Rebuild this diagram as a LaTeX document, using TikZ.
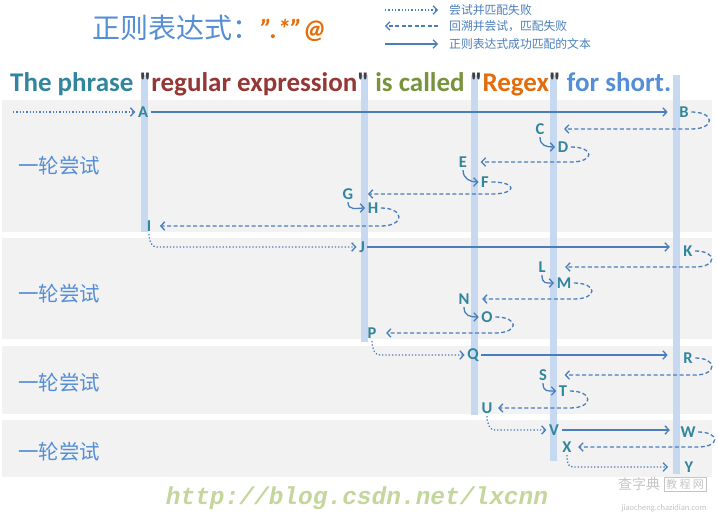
\documentclass[tikz,border=0pt]{standalone}
\usepackage{fontspec}
\setmainfont{Carlito}
\newfontfamily\phrasefont{Carlito}[Ligatures=TeXOff]
\newfontfamily\cjk{Noto Sans CJK SC}
\newfontfamily\wmfont{Liberation Mono}
\usepackage{tikz}
\usetikzlibrary{arrows.meta}
\usepackage{color}
\definecolor{fond}{HTML}{F2F2F2}
\definecolor{barrec}{HTML}{C6D9F1}
\definecolor{trait}{HTML}{4A7EBB}
\definecolor{lettrec}{HTML}{31859C}
\definecolor{titrebleu}{HTML}{558ED5}
\definecolor{orangec}{HTML}{E46C0A}
\definecolor{rougefonce}{HTML}{953735}
\definecolor{vertolive}{HTML}{77933C}
\definecolor{guillemet}{HTML}{404040}
\definecolor{vertpale}{HTML}{C3D69B}
\definecolor{grisfil}{HTML}{C4C4C4}

\begin{document}
\begin{tikzpicture}[x=1pt,y=-1pt,
	lettre/.style={text=lettrec,font=\bfseries\fontsize{16.5}{16.5}\selectfont,inner sep=2.5pt},
	essai/.style={trait,line width=1.3pt,dotted,-{Straight Barb[length=4pt,width=8.5pt]}},
	retour/.style={trait,line width=1.3pt,dash pattern=on 4pt off 2.5pt,-{Straight Barb[length=4pt,width=8.5pt]}},
	succes/.style={trait,line width=1.3pt,-{Straight Barb[length=4pt,width=8.5pt]}},
	crochet/.style={succes},
	bande/.style={fill=fond},
	colonne/.style={fill=barrec},
	cote/.style={text=titrebleu,font=\cjk\fontsize{20.5}{20.5}\selectfont},
	legende/.style={anchor=west,inner sep=0pt,text=trait,font=\cjk\fontsize{11.8}{11.8}\selectfont}]
\useasboundingbox (0,0) rectangle (718,519);
%					Tracé des bandes :
					\fill[bande] (2,100) rectangle (712,232);
					\fill[bande] (2,238) rectangle (712,339);
					\fill[bande] (2,346) rectangle (712,414);
					\fill[bande] (2,420) rectangle (712,477);
%					Tracé des colonnes :
					\fill[colonne] (140.5,75) rectangle (147.5,232);
					\fill[colonne] (360.5,75) rectangle (367.5,342);
					\fill[colonne] (470.5,75) rectangle (477.5,415);
					\fill[colonne] (549.5,75) rectangle (556.5,461);
					\fill[colonne] (672.5,75) rectangle (679.5,474);
%					Titre et légende :
					\node[anchor=west,inner sep=0pt,text=titrebleu,font=\cjk\fontsize{28}{28}\selectfont] (titre) at (92,28) {正则表达式：};
					\node[anchor=base west,inner sep=0pt,text=orangec,font=\bfseries\itshape\fontsize{27}{27}\selectfont] (motif) at (titre.base east) {”.*”@};
					\node[legende] (leg1) at (449,10) {尝试并匹配失败};
					\node[legende] (leg2) at (449,26) {回溯并尝试，匹配失败};
					\node[legende] (leg3) at (449,44) {正则表达式成功匹配的文本};
					\coordinate (l1) at (385,10);
					\coordinate (l2) at (385,26);
					\coordinate (l3) at (385,44);
					\draw[essai,shorten >=11pt] (l1) -- (leg1.west);
					\draw[retour,shorten <=11pt] (leg2.west) -- (l2);
					\draw[succes,shorten >=11pt] (l3) -- (leg3.west);
%					La phrase :
					\node[anchor=base west,inner sep=0pt,font=\phrasefont\bfseries\fontsize{27}{27}\selectfont] (phrase) at (10,92)
						{\textcolor{lettrec}{The phrase} \textcolor{guillemet}{"}\textcolor{rougefonce}{regular expression}\textcolor{guillemet}{"} \textcolor{vertolive}{is called} \textcolor{guillemet}{"}\textcolor{orangec}{Regex}\textcolor{guillemet}{"} \textcolor{titrebleu}{for short.}};
%					Les essais :
					\node[cote] (essai1) at (59,166) {一轮尝试};
					\node[cote] (essai2) at (59,294) {一轮尝试};
					\node[cote] (essai3) at (59,383) {一轮尝试};
					\node[cote] (essai4) at (59,452) {一轮尝试};
%					Les positions :
					\node[lettre] (A) at (143,112) {A};
					\node[lettre] (B) at (684,112) {B};
					\node[lettre] (C) at (540,129) {C};
					\node[lettre] (D) at (563,147) {D};
					\node[lettre] (E) at (463,162) {E};
					\node[lettre] (F) at (485,182) {F};
					\node[lettre] (G) at (348,194) {G};
					\node[lettre] (H) at (373,208) {H};
					\node[lettre] (I) at (149,226) {I};
					\node[lettre] (J) at (362,247) {J};
					\node[lettre] (K) at (688,251) {K};
					\node[lettre] (L) at (542,267) {L};
					\node[lettre] (M) at (564,283) {M};
					\node[lettre] (N) at (464,299) {N};
					\node[lettre] (O) at (487,317) {O};
					\node[lettre] (P) at (372,333) {P};
					\node[lettre] (Q) at (473,355) {Q};
					\node[lettre] (R) at (688,358) {R};
					\node[lettre] (S) at (543,375) {S};
					\node[lettre] (T) at (563,391) {T};
					\node[lettre] (U) at (487,408) {U};
					\node[lettre] (V) at (554,430) {V};
					\node[lettre] (W) at (688,432) {W};
					\node[lettre] (X) at (567,447) {X};
					\node[lettre] (Y) at (689,467) {Y};
%					Premier essai :
					\coordinate (depart) at (13,112);
					\draw[essai] (depart) -- (A.west);
					\draw[succes,shorten >=9pt] (A.east) -- (A -| B.west);
					\draw[retour] (B.east) .. controls +(24,0) and +(24,0) .. (B.east |- C) -- ([xshift=17pt]C.east);
					\draw[crochet] (C.south) .. controls +(0,9) and +(-8,0) .. (D.west);
					\draw[retour] (D.east) .. controls +(24,0) and +(24,0) .. (D.east |- E) -- ([xshift=11pt]E.east);
					\draw[crochet] (E.south) .. controls +(0,9) and +(-8,0) .. (F.west);
					\draw[retour] (F.east) .. controls +(26,0) and +(26,0) .. (F.east |- G) -- ([xshift=12pt]G.east);
					\draw[crochet] (G.south) .. controls +(0,9) and +(-8,0) .. (H.west);
					\draw[retour] (H.east) .. controls +(24,0) and +(24,0) .. (H.east |- I) -- ([xshift=6pt]I.east);
%					Deuxième essai :
					\draw[essai] (I.south) .. controls +(0,8) and +(-5,0) .. ([xshift=8pt]I.south |- J) -- (J.west);
					\draw[succes,shorten >=11pt] (J.east) -- (J -| K.west);
					\draw[retour] (K.east) .. controls +(22,0) and +(22,0) .. (K.east |- L) -- ([xshift=17pt]L.east);
					\draw[crochet] (L.south) .. controls +(0,9) and +(-8,0) .. (M.west);
					\draw[retour] (M.east) .. controls +(24,0) and +(24,0) .. (M.east |- N) -- ([xshift=10pt]N.east);
					\draw[crochet] (N.south) .. controls +(0,9) and +(-8,0) .. (O.west);
					\draw[retour] (O.east) .. controls +(24,0) and +(24,0) .. (O.east |- P) -- ([xshift=7pt]P.east);
%					Troisième essai :
					\draw[essai] (P.south) .. controls +(0,8) and +(-5,0) .. ([xshift=8pt]P.south |- Q) -- (Q.west);
					\draw[succes,shorten >=13pt] (Q.east) -- (Q -| R.west);
					\draw[retour] (R.east) .. controls +(22,0) and +(22,0) .. (R.east |- S) -- ([xshift=15pt]S.east);
					\draw[crochet] (S.south) .. controls +(0,9) and +(-8,0) .. (T.west);
					\draw[retour] (T.east) .. controls +(24,0) and +(24,0) .. (T.east |- U) -- ([xshift=3pt]U.east);
%					Quatrième essai :
					\draw[essai] (U.south) .. controls +(0,8) and +(-5,0) .. ([xshift=8pt]U.south |- V) -- (V.west);
					\draw[succes,shorten >=8pt] (V.east) -- (V -| W.west);
					\draw[retour] (W.east) .. controls +(22,0) and +(22,0) .. (W.east |- X) -- ([xshift=4pt]X.east);
					\draw[essai,shorten >=14pt] (X.south) .. controls +(0,8) and +(-5,0) .. ([xshift=6pt]X.south |- Y) -- (Y.west);
%					Filigranes :
					\node[text=vertpale,font=\wmfont\bfseries\itshape\fontsize{24.5}{24.5}\selectfont] (url) at (357,498) {http://blog.csdn.net/lxcnn};
					\node[text=grisfil,font=\cjk\fontsize{14}{14}\selectfont] (czd) at (639,484) {查字典};
					\node[draw=grisfil,text=grisfil,inner sep=2pt,font=\cjk\fontsize{11}{11}\selectfont] (jcw) at (685,484) {教 程 网};
					\node[text=grisfil,font=\fontsize{8.5}{8.5}\selectfont] (site) at (664,508) {jiaocheng.chazidian.com};
\end{tikzpicture}
\end{document}
